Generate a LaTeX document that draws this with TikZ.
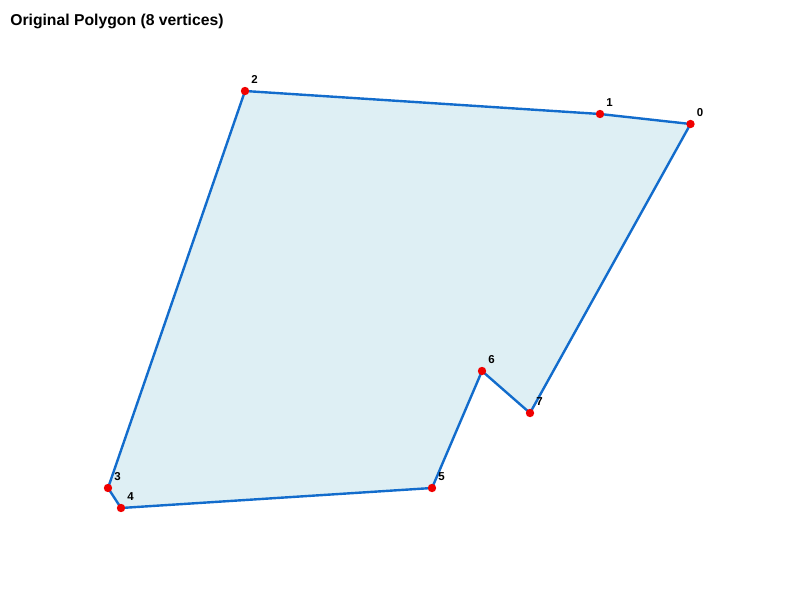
\documentclass[tikz,border=0pt]{standalone}
\usepackage{fontspec}
\setmainfont{Liberation Sans}
\definecolor{edge}{RGB}{18,108,204}
\definecolor{fillc}{RGB}{222,239,244}
\definecolor{dotc}{RGB}{240,0,0}
\tikzset{
  vlabel/.style={anchor=south west,inner sep=0pt,font=\fontsize{8.6}{10}\selectfont\bfseries},
  vdot/.style={circle,fill=dotc,inner sep=0pt,minimum size=6.3pt},
  poly/.style={draw=edge,fill=fillc,line width=1.8pt,line join=round}
}
\begin{document}
\begin{tikzpicture}[x=0.75pt,y=-0.75pt]
\useasboundingbox (0,0) rectangle (800,600);
\node[anchor=base west,inner sep=0pt,font=\fontsize{11.8}{14}\selectfont\bfseries] (title) at (10,25.5) {Original Polygon (8 vertices)};
\coordinate (p0) at (690.5,124);
\coordinate (p1) at (600,114);
\coordinate (p2) at (245,91);
\coordinate (p3) at (108,488);
\coordinate (p4) at (121,508);
\coordinate (p5) at (432,488);
\coordinate (p6) at (482,371);
\coordinate (p7) at (530,413);
\draw[poly] (p0) -- (p1) -- (p2) -- (p3) -- (p4) -- (p5) -- (p6) -- (p7) -- cycle;
\foreach \i in {0,...,7} {
  \node[vdot] (d\i) at (p\i) {};
  \node[vlabel] (l\i) at ([shift={(6,-6.8)}]p\i) {\i};
}
\end{tikzpicture}
\end{document}
